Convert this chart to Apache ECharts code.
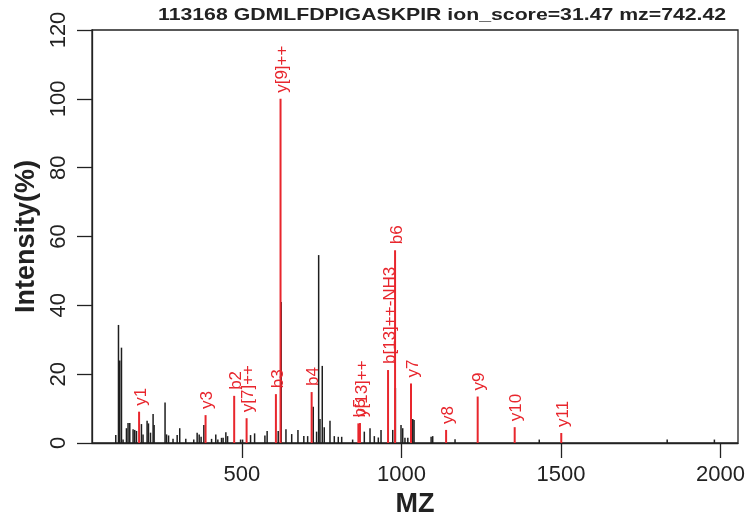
<!DOCTYPE html>
<html lang="en">
<head>
    <meta charset="UTF-8">
    <script src="https://cdn.jsdelivr.net/npm/echarts@6/dist/echarts.min.js"></script>
    <title>113168 GDMLFDPIGASKPIR</title>
    <style>
        html, body { margin: 0; padding: 0; background: #fff; }
        #main { width: 749px; height: 527px; }
    </style>
</head>
<body>
<div id="main"></div>
<script>
    // unmatched peaks (black)
    var peakMz = [104.5, 113, 117, 122.4, 127.4, 138, 143, 148.4, 158.8, 164, 169.4, 185, 190, 202.7, 207,
        213.4, 221.5, 224.7, 259, 263.6, 270, 284, 297, 305, 324, 349, 359.6, 366, 372, 380.6, 404.8, 418,
        424.5, 436, 441, 449.6, 455, 495.8, 502, 527, 539.7, 572, 579, 613.7, 623, 638, 656, 675.6, 694, 706,
        723.5, 734, 740.5, 744.6, 751.8, 758, 776, 789.5, 802, 812.7, 847, 883.6, 901.5, 915, 927.5, 936,
        972.7, 981, 998.7, 1004, 1011, 1020, 1035.5, 1039.5, 1093, 1098, 1168, 1432, 1833, 1981];
    var peakInt = [2.3, 34.3, 24, 27.7, 1, 4.3, 5.8, 5.8, 4, 3.8, 3.5, 5.5, 2.5, 6.5, 5.7,
        3, 8.4, 5.2, 11.8, 2.5, 2.2, 1.2, 2.3, 4.3, 1.2, 1, 3, 2.5, 1.8, 5.2, 1.2, 2.5,
        1, 1.5, 1.5, 3.1, 2, 1, 1, 2.3, 2.8, 2.2, 3.5, 3.5, 41, 4, 2.6, 3.8, 2, 2,
        10.5, 3.3, 54.6, 7, 22.4, 4.6, 6.5, 2, 1.8, 1.8, 1, 3.3, 4.3, 2, 1.6, 3.8,
        3.8, 16, 5.2, 4.3, 1.5, 1.5, 7, 6.7, 1.8, 2, 1.1, 1, 1, 1];

    // matched fragment ions (red)
    var ionNames = ['y1', 'y3', 'b2', 'y[7]++', 'b3', 'y[9]++', 'b4', 'b5', 'y[13]++', 'b[13]++-NH3',
        'b6', 'y7', 'y8', 'y9', 'y10', 'y11'];
    var ionMz = [177.6, 386, 475.7, 514.6, 606.5, 621, 718.5, 865, 870, 958, 980, 1030, 1140, 1239, 1355, 1501];
    var ionInt = [9.1, 8.1, 13.7, 7.2, 14.2, 100, 14.8, 5.7, 5.8, 21.2, 56, 17.3, 3.8, 13.5, 4.6, 2.9];

    var xTicks = [500, 1000, 1500, 2000];
    var titleText = '113168 GDMLFDPIGASKPIR ion_score=31.47 mz=742.42';

    var black = '#1e1e1e';
    var red = '#e8262d';

    function makeData(xs, ys) {
        var out = [];
        for (var i = 0; i < xs.length; i++) {
            out.push([xs[i], ys[i]]);
        }
        return out;
    }

    function stick(color, width, names) {
        return function (params, api) {
            var top = api.coord([api.value(0), api.value(1)]);
            var base = api.coord([api.value(0), 0]);
            var children = [{
                type: 'line',
                shape: {x1: base[0], y1: base[1], x2: top[0], y2: top[1]},
                style: {stroke: color, lineWidth: width}
            }];
            if (names) {
                children.push({
                    type: 'text',
                    x: top[0] + 2,
                    y: top[1] - 6,
                    rotation: Math.PI / 2,
                    style: {
                        text: names[params.dataIndex],
                        fill: color,
                        font: '17px "Liberation Sans", Arial, sans-serif',
                        align: 'left',
                        verticalAlign: 'middle'
                    }
                });
            }
            return {type: 'group', children: children};
        };
    }

    var myChart = echarts.init(document.getElementById('main'));
    var axisFont = '"Liberation Sans", Arial, sans-serif';
    var option = {
        animation: false,
        // title drawn as a widened text, as in the R output
        graphic: [{
            type: 'text',
            x: 158,
            y: 7,
            scaleX: 1.25,
            style: {
                text: titleText,
                font: 'bold 17px "Liberation Sans", Arial, sans-serif',
                fill: '#222',
                align: 'left',
                verticalAlign: 'top'
            }
        }],
        grid: {
            left: 92, right: 11, top: 30, bottom: 84,
            show: true, borderColor: '#222', borderWidth: 1.3
        },
        xAxis: {
            type: 'value',
            min: 30,
            max: 2055,
            name: 'MZ',
            nameLocation: 'middle',
            nameGap: 46,
            nameTextStyle: {fontFamily: axisFont, fontSize: 27, fontWeight: 'bold', color: '#222'},
            splitLine: {show: false},
            axisLine: {show: true, lineStyle: {color: '#222', width: 1.3}},
            axisTick: {show: true, length: 15, customValues: xTicks, lineStyle: {color: '#222', width: 1.3}},
            axisLabel: {
                customValues: xTicks, margin: 21, fontFamily: axisFont, fontSize: 22, color: '#222',
                formatter: function (v) { return String(v); }
            }
        },
        yAxis: {
            type: 'value',
            min: 0,
            max: 120,
            interval: 20,
            name: 'Intensity(%)',
            nameLocation: 'middle',
            nameGap: 46,
            nameRotate: 90,
            nameTextStyle: {fontFamily: axisFont, fontSize: 27, fontWeight: 'bold', color: '#222'},
            splitLine: {show: false},
            axisLine: {show: true, lineStyle: {color: '#222', width: 1.3}},
            axisTick: {show: true, length: 15, lineStyle: {color: '#222', width: 1.3}},
            axisLabel: {rotate: 90, margin: 22, fontFamily: axisFont, fontSize: 22, color: '#222'}
        },
        series: [
            {
                name: 'peaks',
                type: 'custom',
                renderItem: stick(black, 1.5, null),
                data: makeData(peakMz, peakInt)
            },
            {
                name: 'ions',
                type: 'custom',
                renderItem: stick(red, 2, ionNames),
                data: makeData(ionMz, ionInt)
            }
        ]
    };
    myChart.setOption(option);
</script>
</body>
</html>
